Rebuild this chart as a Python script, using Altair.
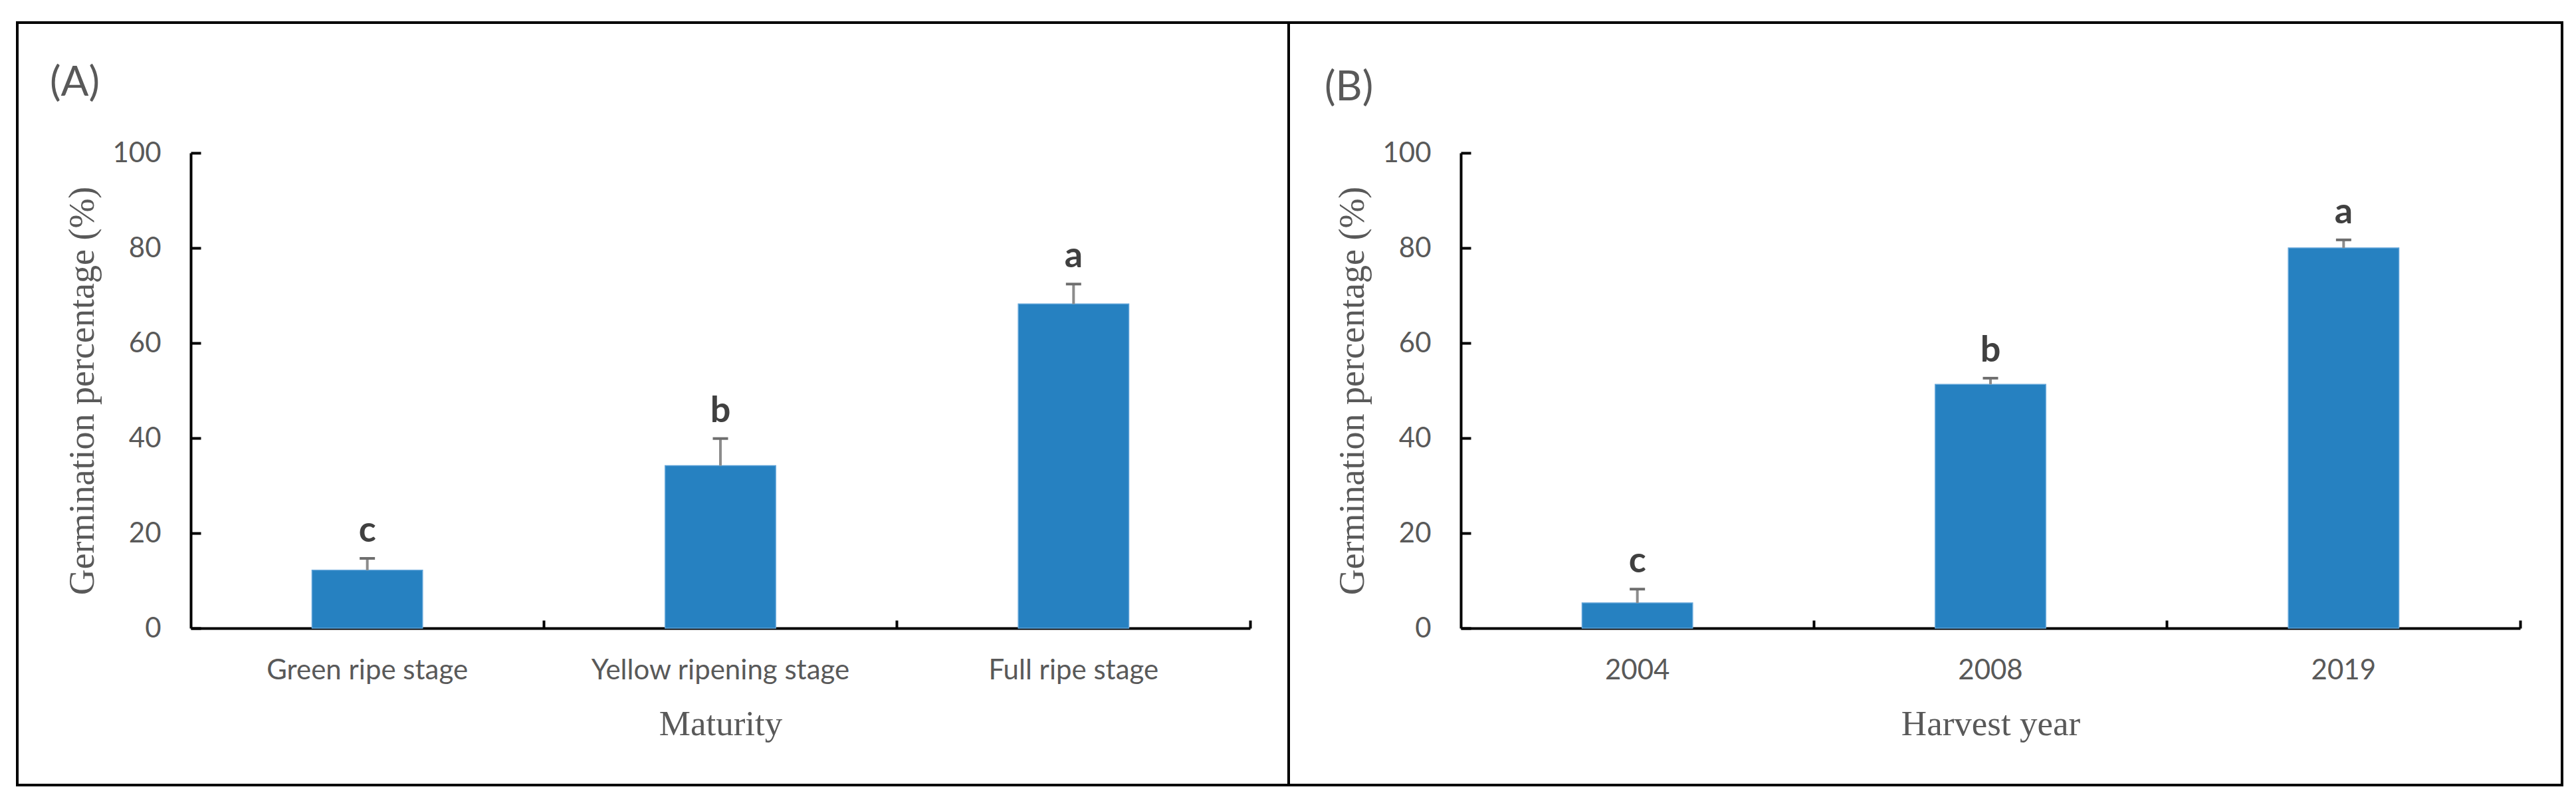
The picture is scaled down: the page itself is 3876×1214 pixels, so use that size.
import altair as alt
import pandas as pd

# ---- data ----
maturity = ["Green ripe stage", "Yellow ripening stage", "Full ripe stage"]
mat_mean = [12.2, 34.2, 68.2]
mat_err = [2.5, 5.7, 4.2]
mat_letter = ["c", "b", "a"]

years = ["2004", "2008", "2019"]
year_mean = [5.3, 51.3, 80.0]
year_err = [2.9, 1.3, 1.7]
year_letter = ["c", "b", "a"]

y_ticks = [0, 20, 40, 60, 80, 100]

BLUE = "#2681c1"
EDGE = "#5fa3d8"
GRAY = "#595959"
W, H = 1594, 715
SANS = "Lato"
SERIF = "Liberation Serif"


def make_df(cats, mean, err, letters):
    return pd.DataFrame({
        "cat": cats,
        "mean": mean,
        "top": [m + e for m, e in zip(mean, err)],
        "letter": letters,
    })


def panel(df, cats, xtitle, tag, frame_x, frame_x2, tag_x, tag_y):
    xs = alt.Scale(paddingInner=0, paddingOuter=0)
    ys = alt.Scale(domain=[0, 100])
    base = alt.Chart(df)

    bars = base.mark_bar(color=BLUE, stroke=EDGE, strokeWidth=1.5,
                         width=alt.RelativeBandSize(0.313)).encode(
        x=alt.X("cat:N", sort=cats, scale=xs, title=xtitle,
                axis=alt.Axis(orient="bottom", ticks=False, tickSize=0,
                              domain=True, domainColor="black", domainWidth=4,
                              labelFont=SANS, labelFontSize=42, labelColor=GRAY,
                              labelPadding=63, labelBaseline="middle", labelAngle=0,
                              labelLimit=1000,
                              titleFont=SERIF, titleFontSize=53, titleColor=GRAY,
                              titleFontWeight="normal", titleX=W / 2, titleY=144,
                              titleBaseline="middle", titleAlign="center",
                              grid=False)),
        y=alt.Y("mean:Q", scale=ys, title="Germination percentage (%)",
                axis=alt.Axis(orient="left", values=y_ticks, grid=False,
                              ticks=False, tickSize=0,
                              domainColor="black", domainWidth=4,
                              labelFont=SANS, labelFontSize=42, labelColor=GRAY,
                              labelPadding=45,
                              titleFont=SERIF, titleFontSize=54, titleColor=GRAY,
                              titleFontWeight="normal", titleX=-163, titleY=H / 2,
                              titleAngle=270, titleBaseline="middle",
                              titleAlign="center")),
    )

    rule = base.mark_rule(color="#8c8c8c", strokeWidth=4).encode(
        x=alt.X("cat:N", sort=cats, scale=xs,
                axis=alt.Axis(orient="top", offset=-H, bandPosition=1,
                              labels=False, domain=False, ticks=True,
                              tickSize=12, tickWidth=4, tickColor="black",
                              title=None, grid=False)),
        y=alt.Y("mean:Q", scale=ys,
                axis=alt.Axis(orient="right", offset=-W, values=y_ticks,
                              labels=False, domain=False, ticks=True,
                              tickSize=15, tickWidth=4, tickColor="black",
                              title=None, grid=False)),
        y2="top:Q",
    )

    cap = base.mark_tick(orient="horizontal", size=23, thickness=4,
                         color="#6e6e6e", opacity=1).encode(
        x=alt.X("cat:N", sort=cats, scale=xs, axis=None),
        y=alt.Y("top:Q", scale=ys, axis=None),
    )

    letters = base.mark_text(baseline="alphabetic", dy=-25, font=SANS,
                             fontWeight="bold", fontSize=54,
                             color="#404040").encode(
        x=alt.X("cat:N", sort=cats, scale=xs, axis=None),
        y=alt.Y("top:Q", scale=ys, axis=None),
        text="letter:N",
    )

    one = alt.Data(values=[{"k": 1}])
    frame = alt.Chart(one).mark_rect(filled=False, stroke="black",
                                     strokeWidth=4).encode(
        x=alt.value(frame_x), x2=alt.value(frame_x2),
        y=alt.value(-196), y2=alt.value(951),
    )
    tag_text = alt.Chart(one).mark_text(text=tag, align="left",
                                        baseline="middle", font=SANS,
                                        fontSize=62, color=GRAY).encode(
        x=alt.value(tag_x), y=alt.value(tag_y),
    )

    return alt.layer(bars, rule, cap, letters, frame, tag_text).resolve_scale(
        x="shared", y="shared"
    ).resolve_axis(x="independent", y="independent").properties(
        width=W, height=H
    )


df_a = make_df(maturity, mat_mean, mat_err, mat_letter)
df_b = make_df(years, year_mean, year_err, year_letter)

pa = panel(df_a, maturity, "Maturity", "(A)", -261, 1652, -212, -105)
pb = panel(df_b, years, "Harvest year", "(B)", -259, 1657, -205, -98)

chart = alt.hconcat(pa, pb, spacing=317, bounds="flush").properties(
    padding={"left": 16, "top": 24, "right": 10, "bottom": 10}
).configure_view(stroke=None)

chart.save("out.html", embed_options={"renderer": "svg", "actions": False})
